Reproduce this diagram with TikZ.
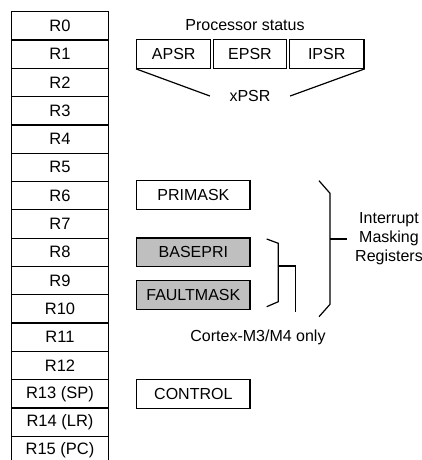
\documentclass[tikz,border=0pt]{standalone}
\usepackage{fontspec}
\setmainfont{Liberation Sans}
\begin{document}
\begin{tikzpicture}[x=1pt,y=-1pt,
  reg/.style={draw, line width=1.2pt, minimum width=96.6pt, minimum height=28.3pt,
    inner sep=0pt, font=\fontsize{16.5}{16.5}\selectfont},
  sreg/.style={draw, line width=1.2pt, minimum height=28.6pt, inner sep=0pt,
    font=\fontsize{16}{16}\selectfont},
  mreg/.style={sreg, minimum width=113.3pt},
  shaded/.style={fill=black!25},
  lbl/.style={inner sep=0pt, font=\fontsize{16}{16}\selectfont},
  brace/.style={line width=1.2pt}]
\clip (0,0) rectangle (422,460);

% general purpose register bank
\foreach \i/\t in {0/R0,1/R1,2/R2,3/R3,4/R4,5/R5,6/R6,7/R7,8/R8,9/R9,10/R10,
                   11/R11,12/R12,13/R13 (SP),14/R14 (LR),15/R15 (PC)}
  \node[reg] (r\i) at (60,{11.7+28.3*\i+14.15}) {\t};

% processor status registers
\node[lbl] (ps) at (245,25) {Processor status};
\node[sreg, minimum width=74pt] (apsr) at (173.7,54) {APSR};
\node[sreg, minimum width=73.4pt] (epsr) at (250,54) {EPSR};
\node[sreg, minimum width=74.7pt] (ipsr) at (326.7,54) {IPSR};
\node[lbl, inner xsep=19.5pt] (xpsr) at (250,96) {xPSR};
\draw[brace] (apsr.south west) -- (xpsr.west);
\draw[brace] (ipsr.south east) -- (xpsr.east);

% special registers
\node[mreg] (primask) at (193.35,195) {PRIMASK};
\node[mreg, shaded] (basepri) at (193.35,252.2) {BASEPRI};
\node[mreg, shaded] (faultmask) at (193.35,295) {FAULTMASK};
\node[mreg] (control) at (193.35,393.8) {CONTROL};

% brace grouping BASEPRI and FAULTMASK
\coordinate (sb) at (295.7,311.7);
\draw[brace] (266.7,239) -- (278.3,243.3) -- (278.3,301.7) -- (266.7,306.7);
\draw[brace] (278.3,266) -| (sb);
\node[lbl] (m34) at (258,337) {Cortex-M3/M4 only};

% brace grouping the interrupt masking registers
\draw[brace] (319,180.7) -- (330,193.3) -- (330,304.3) -- (319,316.7);
\node[lbl, align=center, font=\fontsize{16}{19}\selectfont, inner xsep=7.7pt]
  (imr) at (389,239) {Interrupt\\Masking\\Registers};
\draw[brace] (330,239) -- (imr.west);
\end{tikzpicture}
\end{document}
